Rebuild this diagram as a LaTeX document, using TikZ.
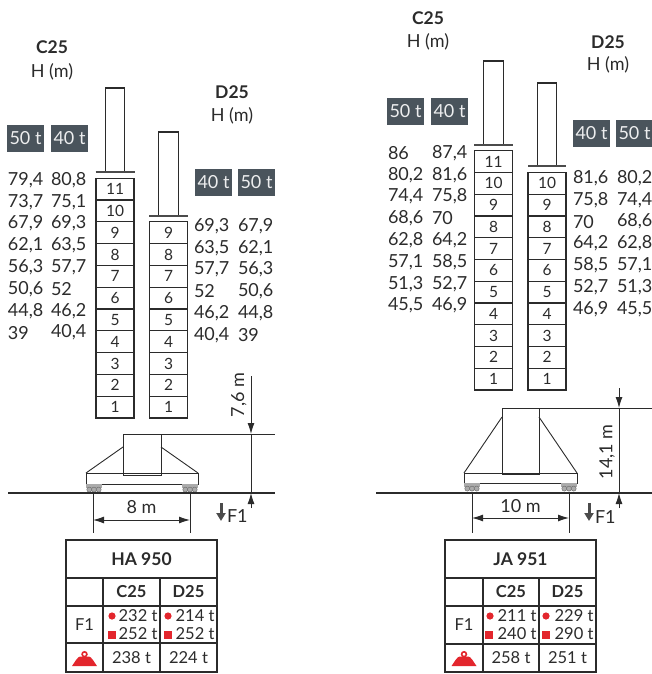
\documentclass[tikz,border=0pt]{standalone}
\usepackage{fontspec}
\setmainfont{Lato}
\usetikzlibrary{arrows.meta}
\definecolor{boxgray}{HTML}{4A545C}
\definecolor{ink}{HTML}{2B2B2B}
\definecolor{wheelgray}{HTML}{ABABAB}
\definecolor{wred}{HTML}{E3262D}
\newcommand\numrow[6]{\node[num] (#1a) at (#2,#4) {#5}; \node[num] (#1b) at (#3,#4) {#6};}
\begin{document}
\begin{tikzpicture}[x=1pt,y=-1pt,
  every node/.style={inner sep=0pt,outer sep=0pt,text=ink},
  txt/.style={font=\fontsize{18}{20}\selectfont},
  hd/.style={font=\fontsize{17.5}{20}\selectfont\bfseries},
  ttxt/.style={font=\fontsize{16.5}{18}\selectfont},
  thd/.style={font=\fontsize{16.5}{18}\selectfont\bfseries},
  num/.style={txt,anchor=west},
  tag/.style={fill=boxgray,text=white!90!boxgray,minimum width=37,minimum height=27,font=\fontsize{18}{20}\selectfont},
  seg/.style={draw=ink,line width=1.1pt,minimum width=38,minimum height=21.8,font=\fontsize{15.5}{16}\selectfont},
  mast/.style={draw=ink,line width=1.1pt,minimum width=19.5},
  plate/.style={draw=ink!85,line width=2.4pt},
  thin/.style={draw=ink,line width=0.9pt},
  ground/.style={draw=ink,line width=2pt},
  dim/.style={draw=ink,line width=0.9pt},
  dimarr/.style={dim,-{Latex[length=11pt,width=7pt]}},
  dimboth/.style={dim,{Latex[length=11pt,width=7pt]}-{Latex[length=11pt,width=7pt]}},
  force/.style={draw=ink!85,line width=3pt,-{Triangle[length=8pt,width=9pt]}},
  grid/.style={draw=ink,line width=1.1pt},
  weight/.pic={
    \fill[wred] (-12.5,6) -- (12.5,6) .. controls (9,1) and (7,-3) .. (4.5,-3.5) -- (-4.5,-3.5) .. controls (-7,-3) and (-9,1) .. cycle;
    \draw[wred,line width=1.6pt] (0,-5.8) circle (2.4);
  },
  bogie/.pic={
    \fill[wheelgray] (0,0) rectangle (16,4);
    \foreach \c in {3.3,8,12.7} \filldraw[fill=wheelgray,draw=wheelgray!65!black,line width=0.5pt] (\c,5.6) circle (2.5);
  },
]
\useasboundingbox (0,0) rectangle (652,674);

% ================= HA 950 =================
\node[hd] (haC) at (52,47) {C25};
\node[txt] (haCH) at (52,72) {H (m)};
\node[hd] (haD) at (232,92) {D25};
\node[txt] (haDH) at (232,116) {H (m)};
\node[tag] (haC50) at (25.5,138.5) {50 t};
\node[tag] (haC40) at (69.5,138.5) {40 t};
\node[tag] (haD40) at (213.5,182.5) {40 t};
\node[tag] (haD50) at (256.5,182.5) {50 t};

% towers
\node[mast,minimum height=84] (haCm) at (115,130) {};
\draw[plate] (95.5,172) -- (134.5,172);
\foreach \i in {1,...,11} \node[seg] (haCs\i) at (115,{418-21.8*(\i-0.5)}) {\i};
\node[mast,minimum height=84] (haDm) at (168.5,174) {};
\draw[plate] (149,216) -- (188,216);
\foreach \i in {1,...,9} \node[seg] (haDs\i) at (168.5,{418-21.8*(\i-0.5)}) {\i};

% heights
\numrow{hc1}{8}{51}{180}{79,4}{80,8}
\numrow{hc2}{8}{51}{201.8}{73,7}{75,1}
\numrow{hc3}{8}{51}{223.6}{67,9}{69,3}
\numrow{hc4}{8}{51}{245.4}{62,1}{63,5}
\numrow{hc5}{8}{51}{267.2}{56,3}{57,7}
\numrow{hc6}{8}{51}{289}{50,6}{52}
\numrow{hc7}{8}{51}{310.8}{44,8}{46,2}
\numrow{hc8}{8}{51}{332.6}{39}{40,4}
\numrow{hd1}{194}{238}{226}{69,3}{67,9}
\numrow{hd2}{194}{238}{247.8}{63,5}{62,1}
\numrow{hd3}{194}{238}{269.6}{57,7}{56,3}
\numrow{hd4}{194}{238}{291.4}{52}{50,6}
\numrow{hd5}{194}{238}{313.2}{46,2}{44,8}
\numrow{hd6}{194}{238}{335}{40,4}{39}

% base
\node[draw=ink,line width=0.9pt,minimum width=38,minimum height=41] (haBlock) at (142,454.5) {};
\draw[thin] (haBlock.north east) -- (275,434);
\draw[thin] (123,447) -- (86,473);
\draw[thin] (161,447) -- (198,473);
\node[draw=ink,line width=0.9pt,minimum width=112,minimum height=11] (haPlat) at (142,478.5) {};
\pic at (86,484) {bogie};
\pic at (182,484) {bogie};
\draw[ground] (8,493) -- (275,493);

% 7,6 m
\coordinate (haT0) at (251,376);
\coordinate (haT1) at (251,434);
\coordinate (haT2) at (251,493);
\coordinate (haT3) at (251,508);
\draw[dimarr] (haT0) -- (haT1);
\draw[dim] (haT1) -- (haT2);
\draw[dimarr] (haT3) -- (haT2);
\node[txt,rotate=90] (haH) at (239,395) {7,6 m};

% 8 m
\coordinate (haW1) at (93,493);
\coordinate (haW2) at (190,493);
\coordinate (haW1b) at (93,533);
\coordinate (haW2b) at (190,533);
\draw[dim] (haW1) -- (haW1b);
\draw[dim] (haW2) -- (haW2b);
\draw[dimboth] (93,520) -- (190,520);
\node[txt] (haW) at (141.5,507) {8 m};

% F1
\coordinate (haF0) at (221,503);
\coordinate (haF1) at (221,521);
\draw[force] (haF0) -- (haF1);
\node[txt,anchor=west] (haF) at (227,516) {F1};

% table
\draw[grid] (66,540) rectangle (217,672);
\draw[grid] (66,578) -- (217,578);
\draw[grid] (66,606) -- (217,606);
\draw[grid] (66,643) -- (217,643);
\draw[grid] (103,578) -- (103,672);
\draw[grid] (160,578) -- (160,672);
\node[thd,font=\fontsize{17.5}{20}\selectfont\bfseries] (haTT) at (141.5,559) {HA 950};
\node[thd] (haTC) at (131.5,592) {C25};
\node[thd] (haTD) at (188.5,592) {D25};
\node[ttxt] (haTF) at (84.5,625) {F1};
\fill[wred] (112,616) circle (3.6);
\fill[wred] (108,630.5) rectangle (116,638.5);
\node[ttxt,anchor=east] (haC1) at (157.5,616) {232 t};
\node[ttxt,anchor=east] (haC2) at (157.5,634) {252 t};
\fill[wred] (168,616) circle (3.6);
\fill[wred] (164,630.5) rectangle (172,638.5);
\node[ttxt,anchor=east] (haD1) at (214.5,616) {214 t};
\node[ttxt,anchor=east] (haD2) at (214.5,634) {252 t};
\pic at (84.5,660) {weight};
\node[ttxt] (haCw) at (131.5,658) {238 t};
\node[ttxt] (haDw) at (188.5,658) {224 t};

% ================= JA 951 =================
\node[hd] (jaC) at (428,18) {C25};
\node[txt] (jaCH) at (428,42) {H (m)};
\node[hd] (jaD) at (608,42) {D25};
\node[txt] (jaDH) at (608,65) {H (m)};
\node[tag] (jaC50) at (405.5,111.5) {50 t};
\node[tag] (jaC40) at (449.5,111.5) {40 t};
\node[tag] (jaD40) at (591.5,133.5) {40 t};
\node[tag] (jaD50) at (634.5,133.5) {50 t};

\node[mast,minimum height=84] (jaCm) at (493.5,103) {};
\draw[plate] (474,145) -- (513,145);
\foreach \i in {1,...,11} \node[seg] (jaCs\i) at (493.5,{390-21.75*(\i-0.5)}) {\i};
\node[mast,minimum height=83] (jaDm) at (547,124.5) {};
\draw[plate] (528,166) -- (566,166);
\foreach \i in {1,...,10} \node[seg] (jaDs\i) at (547,{390-21.75*(\i-0.5)}) {\i};

\numrow{jc1}{388}{432}{153}{86}{87,4}
\numrow{jc2}{388}{432}{174.8}{80,2}{81,6}
\numrow{jc3}{388}{432}{196.6}{74,4}{75,8}
\numrow{jc4}{388}{432}{218.4}{68,6}{70}
\numrow{jc5}{388}{432}{240.2}{62,8}{64,2}
\numrow{jc6}{388}{432}{262}{57,1}{58,5}
\numrow{jc7}{388}{432}{283.8}{51,3}{52,7}
\numrow{jc8}{388}{432}{305.6}{45,5}{46,9}
\numrow{jd1}{573}{617}{178}{81,6}{80,2}
\numrow{jd2}{573}{617}{199.8}{75,8}{74,4}
\numrow{jd3}{573}{617}{221.6}{70}{68,6}
\numrow{jd4}{573}{617}{243.4}{64,2}{62,8}
\numrow{jd5}{573}{617}{265.2}{58,5}{57,1}
\numrow{jd6}{573}{617}{287}{52,7}{51,3}
\numrow{jd7}{573}{617}{308.8}{46,9}{45,5}

\node[draw=ink,line width=0.9pt,minimum width=37,minimum height=66] (jaBlock) at (520.5,441) {};
\draw[thin] (jaBlock.north east) -- (652,408);
\draw[thin] (502,417) -- (464,473);
\draw[thin] (539,417) -- (577,473);
\node[draw=ink,line width=0.9pt,minimum width=113,minimum height=10] (jaPlat) at (520.5,478) {};
\pic at (464,483) {bogie};
\pic at (561,483) {bogie};
\draw[ground] (376,493) -- (652,493);

% 14,1 m
\coordinate (jaT0) at (619,388);
\coordinate (jaT1) at (619,408);
\coordinate (jaT2) at (619,493);
\coordinate (jaT3) at (619,508);
\draw[dimarr] (jaT0) -- (jaT1);
\draw[dim] (jaT1) -- (jaT2);
\draw[dimarr] (jaT3) -- (jaT2);
\node[txt,rotate=90] (jaH) at (607,452) {14,1 m};

% 10 m
\coordinate (jaW1) at (472,493);
\coordinate (jaW2) at (569,493);
\coordinate (jaW1b) at (472,533);
\coordinate (jaW2b) at (569,533);
\draw[dim] (jaW1) -- (jaW1b);
\draw[dim] (jaW2) -- (jaW2b);
\draw[dimboth] (472,518) -- (569,518);
\node[txt] (jaW) at (520.5,506) {10 m};

% F1
\coordinate (jaF0) at (589,503);
\coordinate (jaF1) at (589,521);
\draw[force] (jaF0) -- (jaF1);
\node[txt,anchor=west] (jaF) at (595,517) {F1};

% table
\draw[grid] (445,540) rectangle (596,672);
\draw[grid] (445,578) -- (596,578);
\draw[grid] (445,606) -- (596,606);
\draw[grid] (445,644) -- (596,644);
\draw[grid] (483,578) -- (483,672);
\draw[grid] (539,578) -- (539,672);
\node[thd,font=\fontsize{17.5}{20}\selectfont\bfseries] (jaTT) at (520.5,559) {JA 951};
\node[thd] (jaTC) at (511,592) {C25};
\node[thd] (jaTD) at (567.5,592) {D25};
\node[ttxt] (jaTF) at (464,625) {F1};
\fill[wred] (490,616) circle (3.6);
\fill[wred] (485,630.5) rectangle (493,638.5);
\node[ttxt,anchor=east] (jaC1) at (536.5,616) {211 t};
\node[ttxt,anchor=east] (jaC2) at (536.5,634) {240 t};
\fill[wred] (546,616) circle (3.6);
\fill[wred] (542,630.5) rectangle (550,638.5);
\node[ttxt,anchor=east] (jaD1) at (593.5,616) {229 t};
\node[ttxt,anchor=east] (jaD2) at (593.5,634) {290 t};
\pic at (464,660) {weight};
\node[ttxt] (jaCw) at (511,658) {258 t};
\node[ttxt] (jaDw) at (567.5,658) {251 t};
\end{tikzpicture}
\end{document}
